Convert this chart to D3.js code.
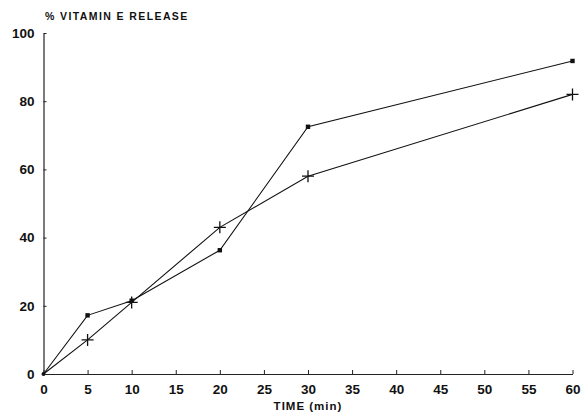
<!DOCTYPE html>
<html>
<head>
<meta charset="utf-8">
<script src="https://cdn.jsdelivr.net/npm/d3@7"></script>
<style>
  body { margin: 0; background: #fff; }
  svg text { font-family: "Liberation Sans", Arial, sans-serif; font-weight: bold; fill: #111; }
</style>
</head>
<body>
<div id="chart"></div>
<script>
// data
var times = [0, 5, 10, 20, 30, 60];
var squareSeries = [0, 17.2, 21.5, 36.3, 72.5, 91.8];
var plusSeries = [0, 10, 21, 43, 58, 82];
var xTicks = [0, 5, 10, 15, 20, 25, 30, 35, 40, 45, 50, 55, 60];
var yTicks = [0, 20, 40, 60, 80, 100];

var width = 583, height = 414;

var svg = d3.select("#chart")
    .append("svg")
    .attr("width", width)
    .attr("height", height);

// scales
var x = d3.scaleLinear().domain([0, 60]).range([43.5, 572.5]);
var y = d3.scaleLinear().domain([0, 100]).range([374, 33]);

// x axis (ticks point up, inside)
var xAxis = svg.append("g")
    .attr("transform", "translate(0," + y(0) + ")")
    .call(d3.axisBottom(x).tickValues(xTicks).tickSizeInner(-4).tickSizeOuter(0).tickPadding(11));
xAxis.select(".domain").attr("stroke", "#222").attr("stroke-width", 1.2);
xAxis.selectAll(".tick line").attr("stroke", "#222");
xAxis.selectAll("text").style("font-size", "13.5px").attr("dy", "0.68em");

// y axis (ticks point right, inside)
var yAxis = svg.append("g")
    .attr("transform", "translate(" + x(0) + ",0)")
    .call(d3.axisLeft(y).tickValues(yTicks).tickSizeInner(-3).tickSizeOuter(0).tickPadding(9));
yAxis.select(".domain").attr("stroke", "#222").attr("stroke-width", 1.2);
yAxis.selectAll(".tick line").attr("stroke", "#222");
yAxis.selectAll("text").style("font-size", "13.5px");

// axis titles
svg.append("text")
    .attr("x", 45)
    .attr("y", 20)
    .style("font-size", "10.5px")
    .style("letter-spacing", "1.4px")
    .text("% VITAMIN E RELEASE");

svg.append("text")
    .attr("x", 308)
    .attr("y", 410)
    .attr("text-anchor", "middle")
    .style("font-size", "11.5px")
    .style("letter-spacing", "1px")
    .text("TIME (min)");

// lines
var line = d3.line()
    .x(function(d) { return x(d[0]); })
    .y(function(d) { return y(d[1]); });

var sqData = times.map(function(t, i) { return [t, squareSeries[i]]; });
var plData = times.map(function(t, i) { return [t, plusSeries[i]]; });

svg.append("path")
    .datum(sqData)
    .attr("d", line)
    .attr("fill", "none")
    .attr("stroke", "#111")
    .attr("stroke-width", 1.1);

svg.append("path")
    .datum(plData)
    .attr("d", line)
    .attr("fill", "none")
    .attr("stroke", "#111")
    .attr("stroke-width", 1.1);

// square markers
svg.selectAll(".sq")
    .data(sqData.slice(1))
    .enter()
    .append("rect")
    .attr("class", "sq")
    .attr("x", function(d) { return x(d[0]) - 2.2; })
    .attr("y", function(d) { return y(d[1]) - 2.2; })
    .attr("width", 4.4)
    .attr("height", 4.4)
    .attr("fill", "#111");

// plus markers
svg.selectAll(".pl")
    .data(plData.slice(1))
    .enter()
    .append("path")
    .attr("class", "pl")
    .attr("transform", function(d) { return "translate(" + x(d[0]) + "," + y(d[1]) + ")"; })
    .attr("d", "M-6,0H6M0,-6V6")
    .attr("stroke", "#111")
    .attr("stroke-width", 1.3)
    .attr("fill", "none");

// origin marker
svg.append("circle")
    .attr("cx", x(0))
    .attr("cy", y(0))
    .attr("r", 2)
    .attr("fill", "#111");
</script>
</body>
</html>
